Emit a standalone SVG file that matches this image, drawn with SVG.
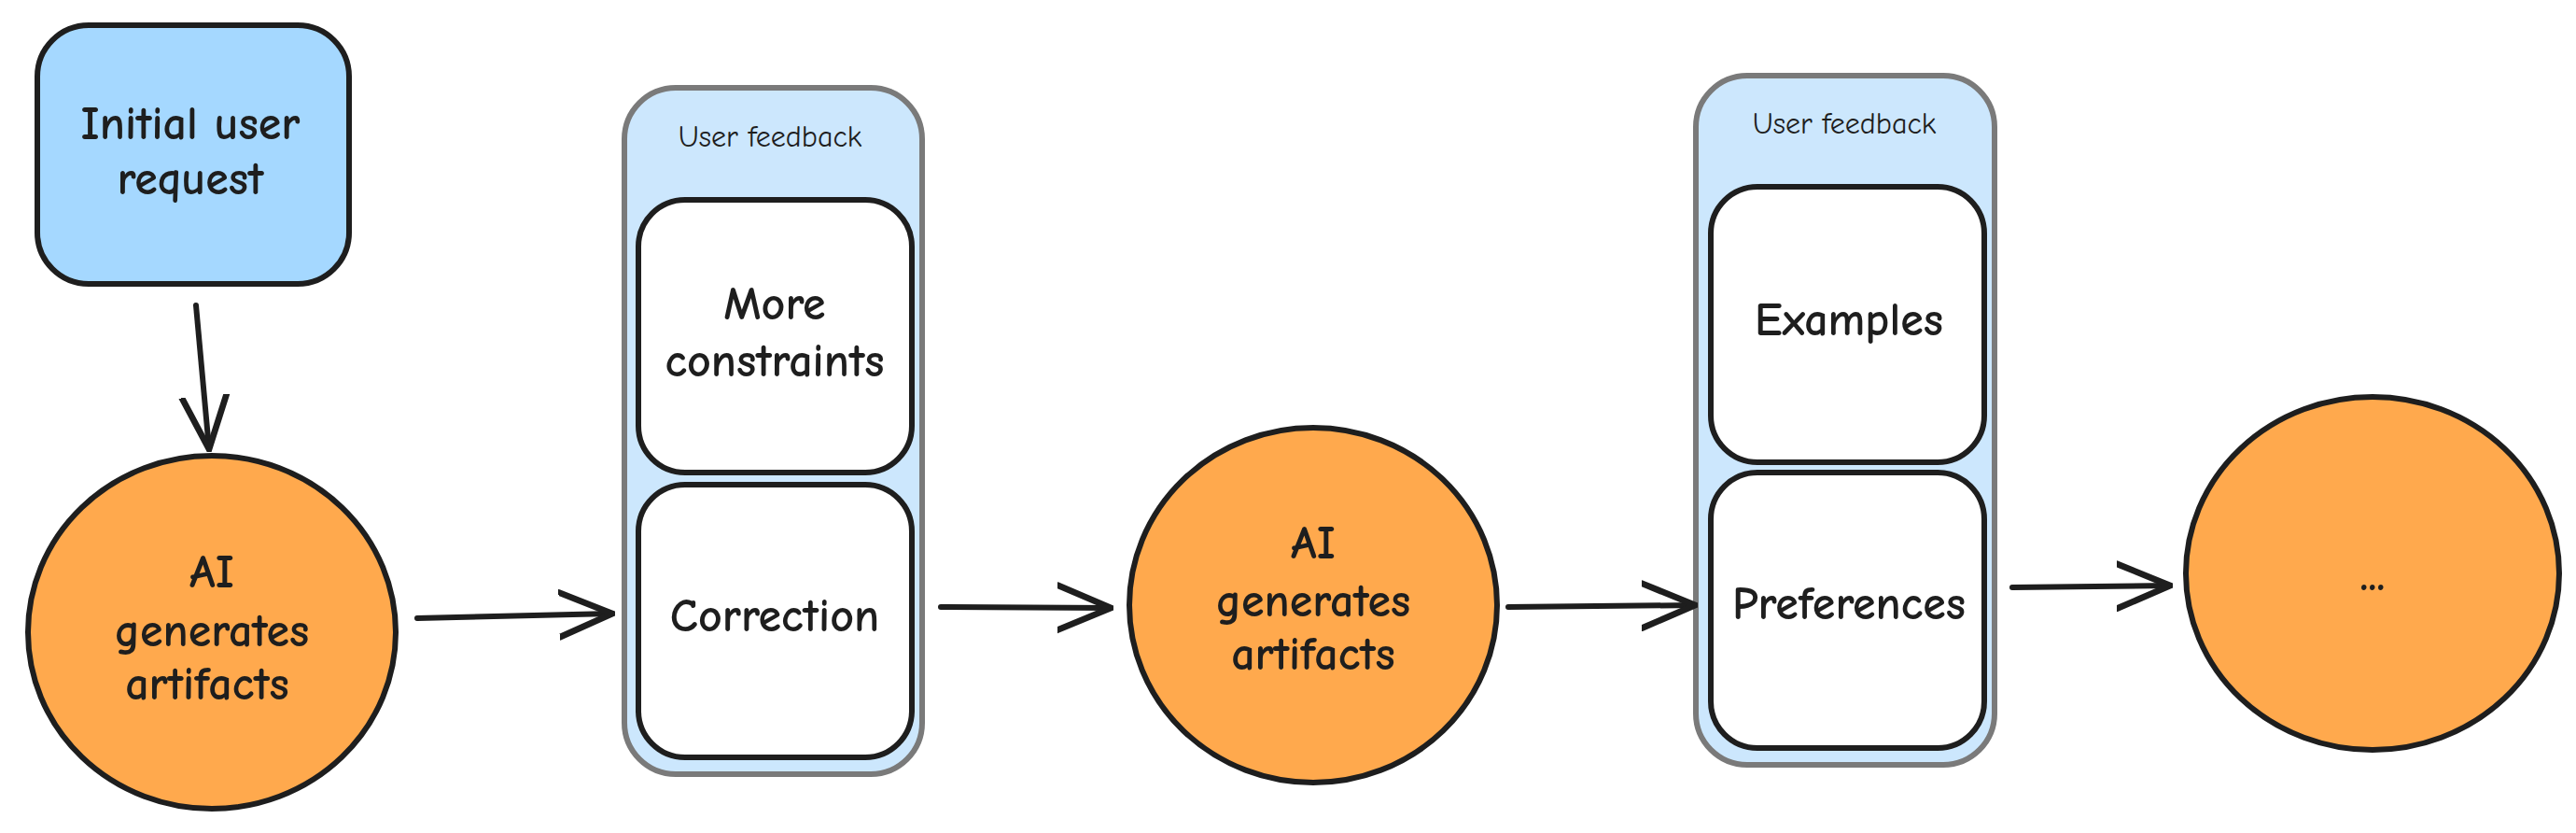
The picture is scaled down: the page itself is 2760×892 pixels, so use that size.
<svg xmlns="http://www.w3.org/2000/svg" width="2760" height="892" viewBox="0 0 2760 892">
<defs>
<marker id="big" viewBox="0 0 40 40" refX="38" refY="20" markerWidth="60" markerHeight="60" markerUnits="userSpaceOnUse" orient="auto"><path d="M0,4 L38,20 L0,36" fill="none" stroke="#1e1e1e" stroke-width="4.5" stroke-linecap="round"/></marker>
</defs>
<style>
text{font-family:"Comic Neue","Liberation Sans",sans-serif;fill:#1e1e1e;text-anchor:middle;dominant-baseline:middle;font-weight:bold}
.t{font-size:50px}
.s{font-size:32px;font-weight:normal}
.blue{fill:#a5d8ff;stroke:#1e1e1e;stroke-width:6}
.cont{fill:#cce7fd;stroke:#7a7a7a;stroke-width:6}
.inner{fill:#ffffff;stroke:#1e1e1e;stroke-width:6}
.orange{fill:#ffa94d;stroke:#1e1e1e;stroke-width:6}
.c{fill:none;stroke:#1e1e1e;stroke-width:6;stroke-linecap:round;marker-end:url(#big)}
</style>
<rect width="2760" height="892" fill="#ffffff"/>
<g id="request"><rect class="blue" x="40" y="27" width="334" height="277" rx="55"/><text class="t" x="204" y="137">Initial user</text><text class="t" x="204" y="196">request</text></g>
<g id="ai1"><ellipse class="orange" cx="227" cy="677" rx="197" ry="189"/><text class="t" x="227" y="617">AI</text><text class="t" x="227" y="680">generates</text><text class="t" x="222" y="737">artifacts</text></g>
<g id="feedback1"><rect class="cont" x="669" y="94" width="319" height="735" rx="55"/><text class="s" x="825" y="149">User feedback</text>
<g id="constraints"><rect class="inner" x="684" y="214" width="293" height="292" rx="50"/><text class="t" x="830" y="330">More</text><text class="t" x="830" y="391">constraints</text></g>
<g id="correction"><rect class="inner" x="684" y="519" width="293" height="292" rx="50"/><text class="t" x="830" y="664">Correction</text></g></g>
<g id="ai2"><ellipse class="orange" cx="1407" cy="648" rx="197" ry="190"/><text class="t" x="1407" y="586">AI</text><text class="t" x="1407" y="648">generates</text><text class="t" x="1407" y="705">artifacts</text></g>
<g id="feedback2"><rect class="cont" x="1817" y="81" width="320" height="738" rx="55"/><text class="s" x="1976" y="135">User feedback</text>
<g id="examples"><rect class="inner" x="1833" y="200" width="293" height="295" rx="50"/><text class="t" x="1981" y="347">Examples</text></g>
<g id="preferences"><rect class="inner" x="1833" y="506" width="293" height="295" rx="50"/><text class="t" x="1981" y="651">Preferences</text></g></g>
<g id="more"><ellipse class="orange" cx="2542" cy="614" rx="200" ry="189"/><text class="t" x="2542" y="620">...</text></g>
<g id="connectors">
<path class="c" d="M210,327 L224,481"/>
<path class="c" d="M447,662 L656,657"/>
<path class="c" d="M1008,650 L1190,651"/>
<path class="c" d="M1616,650 L1816,648"/>
<path class="c" d="M2156,629 L2325,627"/>
</g>
</svg>
